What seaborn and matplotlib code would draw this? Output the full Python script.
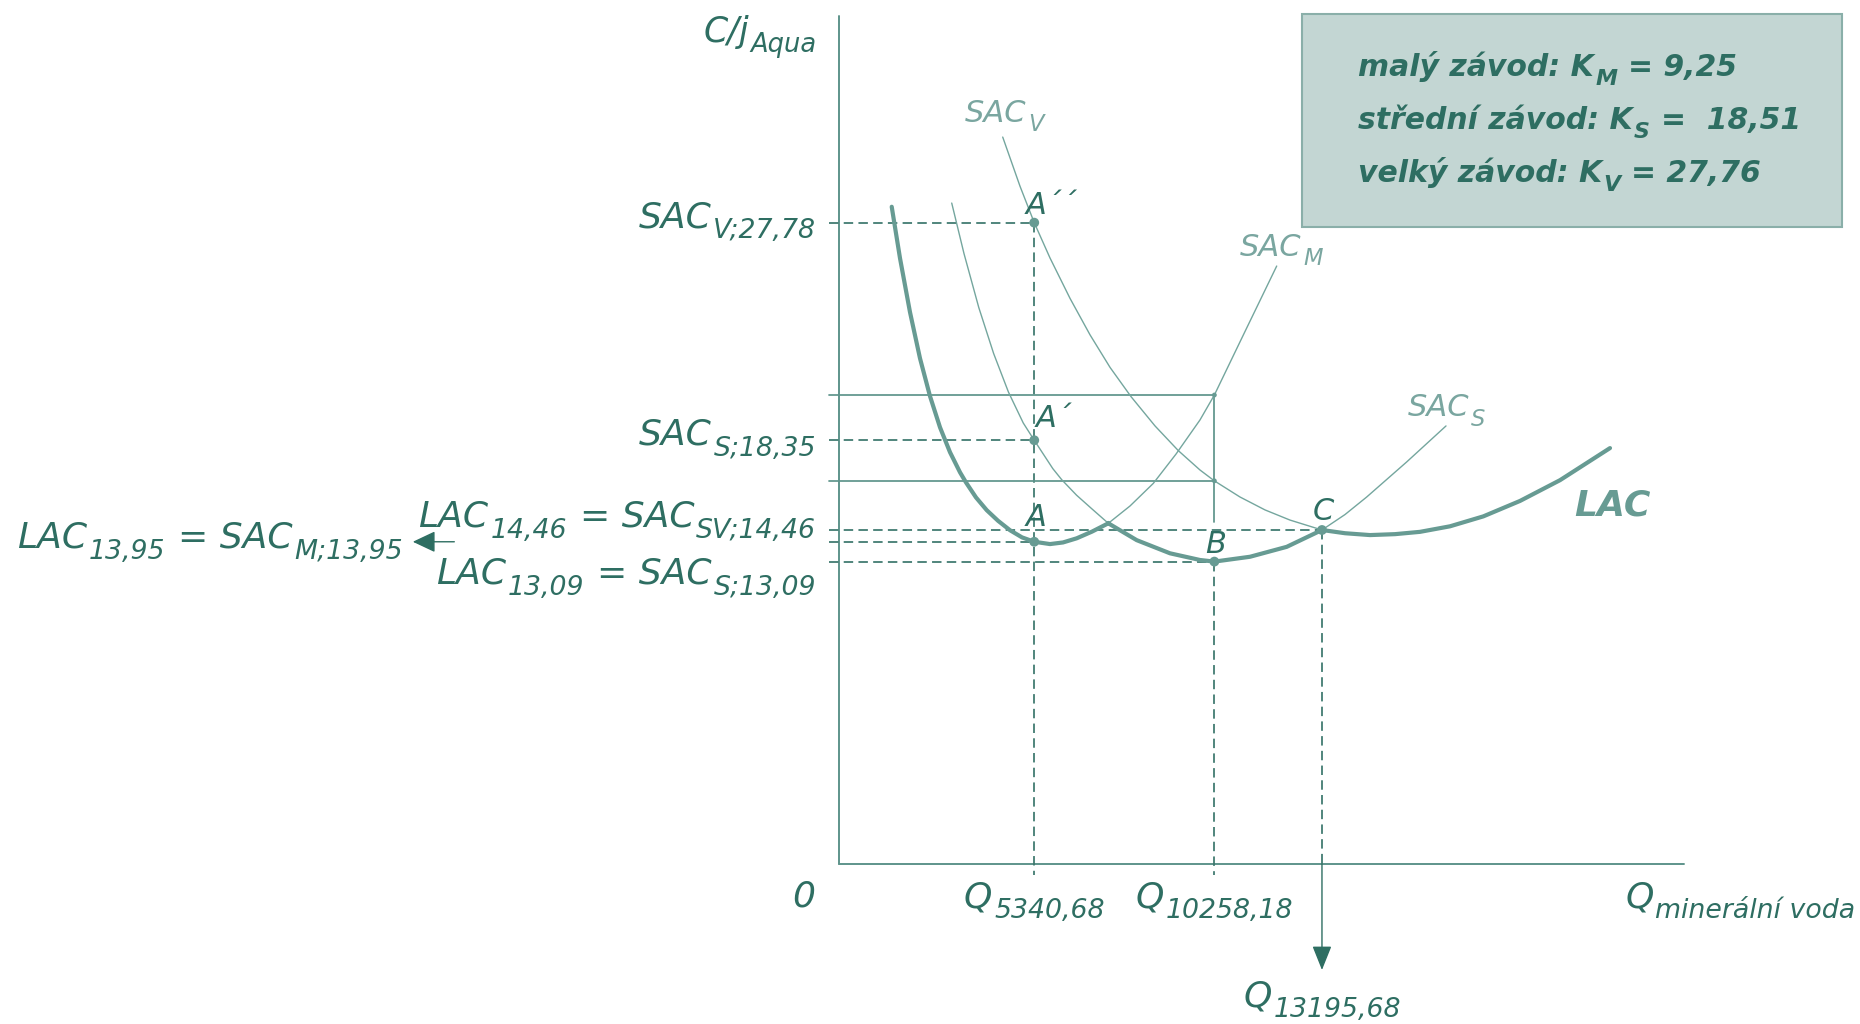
import matplotlib
matplotlib.use("Agg")
import matplotlib.pyplot as plt
import matplotlib.transforms as mtransforms
from matplotlib.patches import Rectangle
import seaborn as sns

# ---------------- data ----------------
# short-run average cost curves: quantity Q and cost C
Q_SAC_M = [1450, 1676, 1949, 2222, 2495, 2768, 3041, 3314, 3478, 3751, 4043, 4352, 4679, 5007,
           5340.68, 5771, 6126, 6500, 6918, 7363, 7955, 8591, 9211, 9866, 10258.18, 11048, 11960]
C_SAC_M = [28.47, 26.24, 23.90, 21.90, 20.26, 18.91, 17.83, 16.96, 16.52, 15.87, 15.32, 14.86,
           14.45, 14.14, 13.95, 13.85, 13.92, 14.10, 14.39, 14.75, 15.50, 16.48, 17.75, 19.23,
           20.31, 22.91, 25.90]

Q_SAC_S = [3088, 3423, 3827, 4232, 4636, 5040, 5340.68, 5848, 6091, 6495, 6926, 7363, 8138,
           9047, 9866, 10258.18, 11231, 12233, 13195.68, 13825, 14417, 15509, 16582]
C_SAC_S = [28.63, 26.44, 24.10, 22.11, 20.44, 19.10, 18.35, 17.12, 16.64, 15.97, 15.36, 14.75,
           14.02, 13.45, 13.16, 13.09, 13.30, 13.73, 14.46, 15.13, 15.89, 17.41, 18.97]

Q_SAC_V = [4480, 4952, 5340.68, 5771, 6317, 6863, 7409, 7983, 8638, 9274, 9866, 10258.18, 10958,
           11641, 12323, 13195.68, 13825, 14507, 15190, 15873, 16691, 17600, 18603, 19695, 21059]
C_SAC_V = [31.49, 29.36, 27.78, 26.25, 24.50, 22.92, 21.51, 20.24, 18.97, 17.90, 17.06, 16.59,
           15.89, 15.33, 14.89, 14.46, 14.32, 14.24, 14.28, 14.38, 14.62, 15.05, 15.72, 16.62,
           18.01]

# key quantities and costs
Q_A, Q_B, Q_C = 5340.68, 10258.18, 13195.68
C_A2, C_A1, C_A = 27.78, 18.35, 13.95      # A'', A', A
C_B, C_C = 13.09, 14.46
C_M_AT_QB, C_V_AT_QB = 20.31, 16.59
Q_MS, C_MS = 7363, 14.75                   # SAC_M x SAC_S intersection

# legend box
PLANT_NAMES = ["malý závod: K", "střední závod: K", "velký závod: K"]
PLANT_SUBS = ["M", "S", "V"]
PLANT_K = [" = 9,25", " =  18,51", " = 27,76"]

# ---------------- style ----------------
sns.set_style("white")
plt.rcParams["font.family"] = ["DejaVu Sans"]
plt.rcParams["lines.scale_dashes"] = False

DARK = "#2E6E62"
CURVE = "#74A69E"
LACC = "#679B93"
LABELC = "#7AA6A0"
DASHC = "#3B766C"
AXISC = "#5E948B"
BOXF = "#C3D6D3"
BOXE = "#8AAFA9"
DASH = (0, (6.8, 3.8))

fig = plt.figure(figsize=(18.6, 10.24), dpi=100)
ax = fig.add_axes([0, 0, 1, 1])

XL = -250  # left start of guide lines (little stub across the axis)

# axes
ax.plot([0, 23080], [0, 0], color=AXISC, lw=1.4, zorder=2)
ax.plot([0, 0], [0, 36.73], color=AXISC, lw=1.4, zorder=2)

# dashed guides
for cy, qx in [(C_A2, Q_A), (C_A1, Q_A), (C_C, Q_C), (C_A, Q_A), (C_B, Q_B)]:
    ax.plot([XL, qx], [cy, cy], color=DASHC, lw=1.25, ls=DASH, zorder=2)
ax.plot([Q_A, Q_A], [C_A2, -0.5], color=DASHC, lw=1.25, ls=DASH, zorder=2)
ax.plot([Q_B, Q_B], [C_B, -0.5], color=DASHC, lw=1.25, ls=DASH, zorder=2)
ax.plot([Q_C, Q_C], [C_C, 0], color=DASHC, lw=1.25, ls=DASH, zorder=2)

# solid rectangle guides
ax.plot([XL, Q_B], [C_M_AT_QB, C_M_AT_QB], color=AXISC, lw=1.25, zorder=2)
ax.plot([XL, Q_B], [C_V_AT_QB, C_V_AT_QB], color=AXISC, lw=1.25, zorder=2)
ax.plot([Q_B, Q_B], [C_M_AT_QB, 14.8], color=AXISC, lw=1.25, zorder=2)

# thin SAC curves
for qs, cs in [(Q_SAC_M, C_SAC_M), (Q_SAC_S, C_SAC_S), (Q_SAC_V, C_SAC_V)]:
    sns.lineplot(x=qs, y=cs, sort=False, estimator=None, color=CURVE, lw=1.0, ax=ax, zorder=3)

# LAC envelope built from the SAC arrays
lac_q, lac_c = [], []
for q, c in zip(Q_SAC_M, C_SAC_M):
    if q <= Q_MS:
        lac_q.append(q); lac_c.append(c)
for q, c in zip(Q_SAC_S, C_SAC_S):
    if Q_MS < q <= Q_C:
        lac_q.append(q); lac_c.append(c)
for q, c in zip(Q_SAC_V, C_SAC_V):
    if q > Q_C:
        lac_q.append(q); lac_c.append(c)
sns.lineplot(x=lac_q, y=lac_c, sort=False, estimator=None, color=LACC, lw=3.0, ax=ax,
             zorder=4)

# points
sns.scatterplot(x=[Q_A, Q_A, Q_A, Q_B, Q_C], y=[C_A2, C_A1, C_A, C_B, C_C], s=50,
                color=LACC, edgecolor="none", ax=ax, zorder=5)
sns.scatterplot(x=[Q_B, Q_B, Q_MS], y=[C_M_AT_QB, C_V_AT_QB, C_MS], s=12,
                color=LACC, edgecolor="none", ax=ax, zorder=5)

# arrows
ax.annotate("", xy=(Q_C, -4.61), xytext=(Q_C, 0),
            arrowprops=dict(arrowstyle="-|>,head_length=0.75,head_width=0.3",
                            color=DARK, lw=1.0, shrinkA=0, shrinkB=0, mutation_scale=20),
            zorder=5)
ax.annotate("", xy=(-11624, C_A), xytext=(-10491, C_A),
            arrowprops=dict(arrowstyle="-|>,head_length=0.7,head_width=0.33",
                            color=DARK, lw=1.0, shrinkA=0, shrinkB=0, mutation_scale=20),
            zorder=5)

# legend box
ax.add_patch(Rectangle((12651, 27.59), 27393 - 12651, 36.82 - 27.59, facecolor=BOXF,
                       edgecolor=BOXE, lw=1.5, zorder=1))

ax.set_xlim(-22894, 27884)
ax.set_ylim(-6.95, 37.43)
ax.axis("off")
if ax.get_legend():
    ax.get_legend().remove()

# ---------------- rich text helper (real text, subscripts as separate pieces) -------------
SUB_SCALE = 0.74
SUB_DROP = 0.30
SPACE_EM = 0.318
GAP_EM = 0.05


def rich(x, y, parts, size, color, ha="left", weight="normal"):
    r = fig.canvas.get_renderer()
    ppt = fig.dpi / 72.0
    items = []
    for txt, sub in parts:
        fs = size * SUB_SCALE if sub else size
        lead = len(txt) - len(txt.lstrip(" "))
        trail = len(txt) - len(txt.rstrip(" "))
        core = txt.strip(" ")
        t = ax.text(0, 0, core, fontsize=fs, style="italic", weight=weight, color=color,
                    transform=mtransforms.IdentityTransform(), ha="left", va="baseline",
                    zorder=6)
        w = t.get_window_extent(r).width
        items.append([t, w, sub, lead * SPACE_EM * fs * ppt, trail * SPACE_EM * fs * ppt,
                      GAP_EM * fs * ppt])
    total = sum(i[1] + i[3] + i[4] for i in items) + sum(i[5] for i in items[:-1])
    x0, y0 = ax.transData.transform((x, y))
    if ha == "right":
        x0 -= total
    elif ha == "center":
        x0 -= total / 2
    cx = x0
    for t, w, sub, lead, trail, gap in items:
        cx += lead
        dy = -SUB_DROP * size * ppt if sub else 0
        t.set_position((cx, y0 + dy))
        cx += w + trail + gap


BIG = 26
rich(-590, 35.61, [("C/j", 0), ("Aqua", 1)], 25, DARK, ha="right")
rich(-617, 27.59, [("SAC", 0), ("V;27,78", 1)], BIG, DARK, ha="right")
rich(-617, 18.15, [("SAC", 0), ("S;18,35", 1)], BIG, DARK, ha="right")
rich(-617, 14.60, [("LAC", 0), ("14,46", 1), (" = SAC", 0), ("SV;14,46", 1)], BIG, DARK,
     ha="right")
rich(-22440, 13.68, [("LAC", 0), ("13,95", 1), (" = SAC", 0), ("M;13,95", 1)], BIG, DARK,
     ha="left")
rich(-617, 12.13, [("LAC", 0), ("13,09", 1), (" = SAC", 0), ("S;13,09", 1)], BIG, DARK,
     ha="right")

# axis labels
ax.text(-643, -1.84, "0", fontsize=BIG, style="italic", color=DARK, ha="right", va="baseline")
rich(Q_A, -1.90, [("Q", 0), ("5340,68", 1)], BIG, DARK, ha="center")
rich(Q_B, -1.90, [("Q", 0), ("10258,18", 1)], BIG, DARK, ha="center")
rich(Q_C, -6.17, [("Q", 0), ("13195,68", 1)], BIG, DARK, ha="center")
rich(21470, -1.90, [("Q", 0), ("minerální voda", 1)], BIG, DARK, ha="left")

# curve labels
rich(3449, 32.15, [("SAC", 0), ("V", 1)], 22, LABELC)
rich(10958, 26.35, [("SAC", 0), ("M", 1)], 22, LABELC)
rich(15546, 19.38, [("SAC", 0), ("S", 1)], 22, LABELC)
ax.text(20080, 15.07, "LAC", fontsize=26, style="italic", weight="bold", color=LACC,
        ha="left", va="baseline")

# point labels
PT = 22
ax.text(5116, 28.17, "A´´", fontsize=PT, style="italic", color=DARK, ha="left", va="baseline")
ax.text(5375, 18.92, "A´", fontsize=PT, style="italic", color=DARK, ha="left", va="baseline")
ax.text(5116, 14.65, "A", fontsize=PT, style="italic", color=DARK, ha="left", va="baseline")
ax.text(10298, 13.47, "B", fontsize=PT, style="italic", color=DARK, ha="center", va="baseline")
ax.text(13243, 14.91, "C", fontsize=PT, style="italic", color=DARK, ha="center", va="baseline")

# legend text
for i, (nm, sb, kv) in enumerate(zip(PLANT_NAMES, PLANT_SUBS, PLANT_K)):
    rich(14180, [34.13, 31.82, 29.56][i], [(nm, 0), (sb, 1), (kv, 0)], 21.5, DARK,
         weight="bold")

fig.savefig("out.png", dpi=100)
